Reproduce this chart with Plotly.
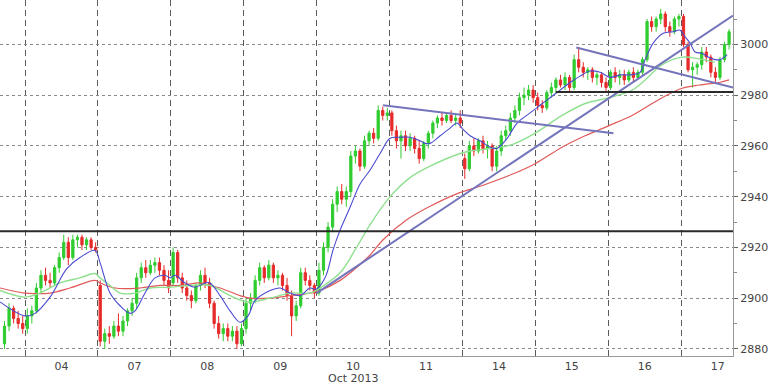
import plotly.graph_objects as go

# ---------------- data ----------------
day_labels = ["04", "07", "08", "09", "10", "11", "14", "15", "16", "17"]
month_label = "Oct 2013"
bars_per_day = 16
lead_bars = 5  # bars of partial day before "04"

opens = [
    2882, 2889, 2896, 2892, 2890,
    2888, 2893, 2895, 2904, 2909, 2907, 2906, 2912, 2916, 2922, 2916, 2923, 2924, 2921, 2923, 2920,
    2905, 2883, 2886, 2885, 2889, 2887, 2891, 2895, 2898, 2908, 2912, 2910, 2913, 2914, 2911, 2907,
    2906, 2918, 2908, 2904, 2901, 2899, 2905, 2909, 2906, 2898, 2890, 2886, 2888, 2885, 2887, 2882,
    2888, 2898, 2900, 2907, 2912, 2908, 2913, 2908, 2909, 2905, 2901, 2893, 2897, 2910, 2907, 2905,
    2902, 2911, 2920, 2928, 2937, 2942, 2939, 2942, 2956, 2958, 2952, 2962, 2965, 2963, 2974, 2972,
    2973, 2966, 2962, 2964, 2960, 2963, 2959, 2955, 2961, 2965, 2969, 2971, 2970, 2972, 2970, 2971,
    2955, 2951, 2960, 2958, 2962, 2959, 2960, 2952, 2958, 2964, 2966, 2971, 2974, 2979, 2980, 2982,
    2979, 2976, 2975, 2981, 2983, 2986, 2984, 2987, 2983, 2994, 2991, 2989, 2990, 2987, 2988, 2985,
    2983, 2989, 2987, 2988, 2986, 2989, 2987, 2989, 2994, 3009, 3007, 3010, 3012, 3007, 3005, 3010,
    3011, 3000, 2990, 2991, 2992, 2997, 2995, 2989, 2987, 2994, 3000,
]
highs = [
    2891, 2898, 2897, 2895, 2893,
    2896, 2897, 2906, 2911, 2912, 2910, 2913, 2918, 2925, 2924, 2925, 2925, 2925, 2924, 2924, 2922,
    2907, 2888, 2889, 2891, 2894, 2893, 2896, 2900, 2910, 2914, 2915, 2915, 2916, 2916, 2913, 2911,
    2920, 2919, 2910, 2907, 2903, 2906, 2911, 2912, 2908, 2899, 2893, 2890, 2890, 2889, 2889, 2890,
    2900, 2902, 2909, 2914, 2913, 2915, 2914, 2911, 2910, 2908, 2903, 2899, 2912, 2912, 2909, 2906,
    2914, 2922, 2930, 2939, 2944, 2945, 2944, 2958, 2960, 2959, 2964, 2966, 2967, 2976, 2975.5, 2975,
    2974, 2968, 2966, 2966, 2965, 2964, 2962, 2962, 2966, 2970, 2972, 2973, 2973, 2974, 2973, 2974,
    2957, 2962, 2963, 2963, 2964, 2962, 2961, 2960, 2966, 2968, 2973, 2976, 2981, 2983, 2984, 2984,
    2981, 2978, 2982, 2985, 2987, 2988, 2989, 2988, 2996, 2999, 2993, 2991, 2991, 2989, 2989, 2987,
    2990, 2991, 2990, 2990, 2990, 2991, 2990, 2995, 3010, 3011, 3011, 3014, 3013, 3009, 3011, 3012,
    3012, 3001, 2993, 2993, 2999, 2999, 2996, 2991, 2995, 3001, 3006,
]
lows = [
    2880, 2887, 2890, 2888, 2886,
    2886, 2890, 2894, 2902, 2905, 2904, 2905, 2910, 2915, 2913, 2915, 2920, 2919, 2919, 2919, 2918,
    2881, 2880, 2882, 2884, 2885, 2885, 2889, 2893, 2896, 2906, 2908, 2909, 2910, 2909, 2905, 2902,
    2905, 2906, 2902, 2899, 2896, 2898, 2903, 2904, 2896, 2888, 2884, 2883, 2883, 2883, 2880, 2881,
    2886, 2895, 2898, 2905, 2906, 2907, 2906, 2905, 2903, 2899, 2885, 2891, 2896, 2905, 2903, 2900,
    2901, 2909, 2918, 2926, 2934, 2937, 2936, 2940, 2953, 2950, 2951, 2960, 2961, 2962, 2970, 2970,
    2964, 2959, 2955, 2958, 2958, 2957, 2953, 2954, 2959, 2963, 2967, 2968, 2969, 2969, 2968, 2967,
    2947, 2950, 2956, 2957, 2957, 2955, 2950, 2950, 2956, 2962, 2964, 2969, 2972, 2976, 2978, 2977,
    2974, 2973, 2974, 2979, 2981, 2983, 2982, 2981, 2982, 2989, 2987, 2986, 2985, 2984, 2983, 2981,
    2982, 2985, 2984, 2984, 2985, 2985, 2986, 2988, 2993, 3005, 3005, 3008, 3005, 3003, 3004, 3007,
    2999, 2989, 2983, 2988, 2990, 2993, 2987, 2985, 2986, 2993, 2998,
]
closes = [
    2889, 2896, 2892, 2890, 2888,
    2893, 2895, 2904, 2909, 2907, 2906, 2912, 2916, 2922, 2916, 2923, 2924, 2921, 2923, 2920, 2919,
    2883, 2886, 2885, 2889, 2887, 2891, 2895, 2898, 2908, 2912, 2910, 2913, 2914, 2911, 2907, 2904,
    2918, 2908, 2904, 2901, 2899, 2905, 2909, 2906, 2898, 2890, 2886, 2888, 2885, 2887, 2882, 2888,
    2898, 2900, 2907, 2912, 2908, 2913, 2908, 2909, 2905, 2901, 2893, 2897, 2910, 2907, 2905, 2902,
    2911, 2920, 2928, 2937, 2942, 2939, 2942, 2956, 2958, 2952, 2962, 2965, 2963, 2974, 2972, 2973,
    2966, 2962, 2964, 2960, 2963, 2959, 2955, 2961, 2965, 2969, 2971, 2970, 2972, 2970, 2971, 2969,
    2951, 2960, 2958, 2962, 2959, 2960, 2952, 2958, 2964, 2966, 2971, 2974, 2979, 2980, 2982, 2979,
    2976, 2975, 2981, 2983, 2986, 2984, 2987, 2983, 2994, 2991, 2989, 2990, 2987, 2988, 2985, 2983,
    2989, 2987, 2988, 2986, 2989, 2987, 2989, 2994, 3009, 3007, 3010, 3012, 3007, 3005, 3010, 3011,
    3000, 2990, 2991, 2992, 2997, 2995, 2989, 2987, 2994, 3000, 3005,
]

# moving averages (time in trading days from the start of "04")
ma_fast_t = [-0.343, 0, 0.137, 0.343, 0.576, 0.754, 0.96, 1.029, 1.166, 1.303, 1.44, 1.509, 1.646,
             1.783, 1.92, 1.989, 2.058, 2.195, 2.332, 2.469, 2.538, 2.675, 2.812, 2.949, 3.059,
             3.155, 3.361, 3.498, 3.635, 3.772, 3.909, 3.992, 4.115, 4.225, 4.321, 4.458, 4.595,
             4.733, 4.87, 5.007, 5.144, 5.281, 5.418, 5.487, 5.556, 5.693, 5.83, 5.926, 6.008,
             6.104, 6.241, 6.379, 6.475, 6.612, 6.749, 6.927, 7.064, 7.202, 7.339, 7.476, 7.613,
             7.75, 7.888, 8.025, 8.162, 8.299, 8.436, 8.505, 8.615, 8.752, 8.889, 8.985, 9.053,
             9.122, 9.191, 9.283, 9.369, 9.465, 9.534, 9.63]
ma_fast = [2898.5, 2893, 2894, 2900.4, 2911.7, 2916, 2918.8, 2914, 2902, 2897, 2894, 2895, 2902,
           2908, 2909, 2908, 2909, 2906, 2904.3, 2906, 2906, 2901, 2895, 2890.5, 2893,
           2899, 2903, 2904, 2902, 2901, 2904, 2903.5, 2908, 2919, 2926.8, 2935.8, 2945,
           2950.5, 2957, 2963, 2963.4, 2963.4, 2962, 2961, 2961, 2964, 2967, 2969, 2966.5,
           2964, 2962, 2959.5, 2959, 2963, 2969, 2973, 2976, 2979, 2982, 2985, 2987.5,
           2989.5, 2989, 2987, 2988, 2988, 2989, 2994, 3000.5, 3004.4, 3005, 3005.6, 3003,
           3000.5, 2997, 2996.5, 2995, 2994, 2994, 2996]

ma_mid_t = [-0.343, 0, 0.206, 0.48, 0.754, 0.96, 1.029, 1.166, 1.303, 1.509, 1.715, 1.989, 2.263,
            2.538, 2.812, 3.059, 3.361, 3.635, 3.909, 4.047, 4.321, 4.527, 4.733, 5.007, 5.281,
            5.556, 5.967, 6.104, 6.379, 6.68, 6.996, 7.366, 7.682, 8.011, 8.326, 8.505, 8.738,
            9.012, 9.246, 9.465]
ma_mid = [2903, 2900.4, 2902, 2906, 2908, 2909.7, 2908, 2905, 2902, 2902, 2904, 2904.3, 2905,
          2905, 2901, 2898.5, 2900, 2902, 2902, 2904, 2910, 2919, 2929, 2940, 2947.5,
          2952, 2957, 2958, 2959, 2960.5, 2965, 2972, 2976.7, 2979, 2982, 2986, 2992,
          2995, 2994.3, 2993]

ma_slow_t = [-0.343, 0, 0.137, 0.343, 0.617, 0.96, 1.029, 1.235, 1.577, 1.852, 2.126, 2.4,
             2.538, 2.675, 2.949, 3.086, 3.361, 3.635, 3.909, 4.047, 4.321, 4.527, 4.733,
             4.911, 5.226, 5.542, 5.912, 6.283, 6.68, 6.996, 7.366, 7.682, 8.011, 8.326,
             8.505, 8.738, 9.012, 9.246, 9.52, 9.657]
ma_slow = [2904, 2902, 2901.8, 2902, 2904, 2907, 2906, 2904, 2904, 2905, 2905, 2906,
           2905, 2904, 2901, 2900, 2900, 2901, 2902, 2903, 2907, 2911.6, 2917,
           2923, 2930.7, 2936, 2941, 2944.5, 2948.8, 2953, 2959.5, 2964, 2968, 2972,
           2975, 2979, 2982.7, 2984, 2985, 2986]

# drawn trend lines / levels
trend_up_t, trend_up_v = [4.0, 9.71], [2902, 3011.4]
trend_dn1_t, trend_dn1_v = [4.91, 8.07], [2976, 2965]
trend_dn2_t, trend_dn2_v = [7.56, 9.71], [2998.8, 2983]
support_t, support_v = [7.28, 9.71], [2981.2, 2981.2]
level_t, level_v = [-0.343, 9.71], [2926.4, 2926.4]

x_range = [-0.343, 9.71]
y_range = [2877.2, 3017.5]
y_ticks = [2880, 2900, 2920, 2940, 2960, 2980, 3000]

# ---------------- figure ----------------
bar_t = [(i - lead_bars + 0.5) / bars_per_day for i in range(len(closes))]

GREEN = "#2fcc2f"
RED = "#e62a2a"

fig = go.Figure()
fig.add_trace(go.Candlestick(
    x=bar_t, open=opens, high=highs, low=lows, close=closes,
    increasing=dict(line=dict(color=GREEN, width=1), fillcolor=GREEN),
    decreasing=dict(line=dict(color=RED, width=1), fillcolor=RED),
    whiskerwidth=0, hoverinfo="skip",
))
fig.add_trace(go.Scatter(x=ma_slow_t, y=ma_slow, mode="lines",
                         line=dict(color="#e05a5a", width=1.2, shape="spline")))
fig.add_trace(go.Scatter(x=ma_mid_t, y=ma_mid, mode="lines",
                         line=dict(color="#8fe08f", width=1.4, shape="spline")))
fig.add_trace(go.Scatter(x=ma_fast_t, y=ma_fast, mode="lines",
                         line=dict(color="#4b4bd0", width=1.1, shape="spline")))

for tx, tv in [(trend_up_t, trend_up_v), (trend_dn1_t, trend_dn1_v), (trend_dn2_t, trend_dn2_v)]:
    fig.add_trace(go.Scatter(x=tx, y=tv, mode="lines", line=dict(color="#7474bc", width=2)))
for tx, tv in [(support_t, support_v), (level_t, level_v)]:
    fig.add_trace(go.Scatter(x=tx, y=tv, mode="lines", line=dict(color="#2a2a2a", width=2)))

fig.update_layout(
    width=768, height=384,
    margin=dict(l=0, r=35, t=0, b=28),
    paper_bgcolor="white", plot_bgcolor="white",
    showlegend=False, hovermode=False,
    font=dict(family="DejaVu Sans", size=11, color="#444"),
    xaxis=dict(
        range=x_range, rangeslider=dict(visible=False),
        tickmode="array",
        tickvals=[i + 0.5 for i in range(len(day_labels))],
        ticktext=day_labels, ticks="", showgrid=False, zeroline=False,
        showline=True, linecolor="#999", linewidth=1,
        minor=dict(tickmode="linear", tick0=0, dtick=1, showgrid=True,
                   gridcolor="#5a5a5a", griddash="6px,4px", gridwidth=1, ticks=""),
        tickfont=dict(size=11, color="#444"),
    ),
    yaxis=dict(
        range=y_range, side="right", tickmode="array", tickvals=y_ticks,
        ticks="outside", ticklen=4, tickcolor="#666",
        showgrid=True, gridcolor="#8a8a8a", griddash="dot", gridwidth=1,
        zeroline=False, showline=True, linecolor="#999", linewidth=1,
        minor=dict(tickmode="linear", tick0=2870, dtick=10, ticks="outside",
                   ticklen=3, tickcolor="#888", showgrid=False),
        tickfont=dict(size=11, color="#444"),
    ),
    annotations=[dict(text=month_label, x=4.5, xref="x", y=0, yref="paper",
                      yanchor="top", yshift=-14, showarrow=False,
                      font=dict(size=11, color="#444"))],
)

fig.write_html("out.html")
